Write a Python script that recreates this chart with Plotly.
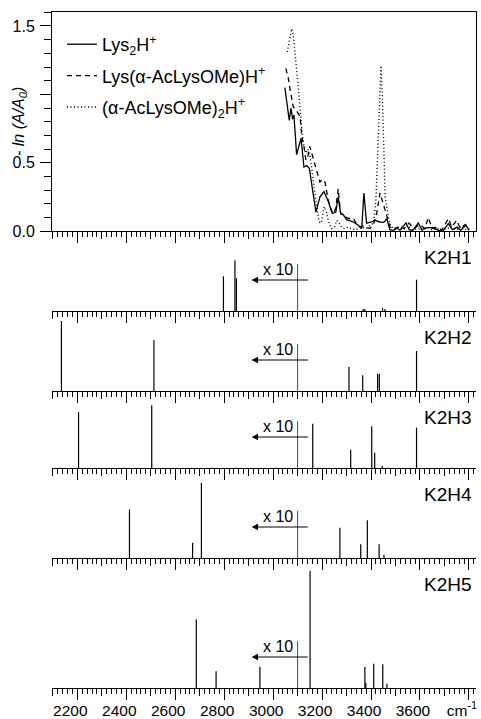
import plotly.graph_objects as go

# ---------------- data ----------------
# experimental IRMPD spectra (- ln(A/A0)) vs wavenumber (cm-1)
lys2_x = [3048, 3066, 3073, 3080, 3085, 3096, 3114, 3126, 3137, 3148, 3175, 3191, 3208, 3225,
          3242, 3256, 3266, 3276, 3287, 3300, 3328, 3348, 3362, 3371, 3382, 3402, 3416, 3437,
          3453, 3464, 3477, 3490, 3504, 3518, 3543, 3556, 3570, 3593, 3607, 3630, 3655, 3675,
          3695, 3716, 3733, 3752, 3766, 3788, 3801]
lys2_y = [1.05, 0.81, 0.90, 0.82, 0.85, 0.56, 0.68, 0.47, 0.48, 0.46, 0.14, 0.25, 0.29, 0.22,
          0.13, 0.14, 0.25, 0.13, 0.12, 0.085, 0.068, 0.044, 0.02, 0.28, 0.06, 0.068, 0.08, 0.068,
          0.065, 0.093, 0.012, 0.005, 0.027, 0.008, 0.061, 0.012, 0.005, 0.061, 0.012, 0.027, 0.027, 0.007,
          0.005, 0.056, 0.012, 0.031, 0.007, 0.044, 0.007]

lysac_x = [3052, 3062, 3068, 3082, 3096, 3103, 3110, 3117, 3126, 3134, 3142, 3150, 3160, 3171,
           3181, 3191, 3202, 3212, 3225, 3236, 3246, 3256, 3266, 3276, 3290, 3300, 3315, 3328,
           3342, 3355, 3368, 3380, 3395, 3410, 3423, 3437, 3450, 3464, 3478, 3495, 3515, 3535,
           3555, 3575, 3600, 3620, 3634, 3650, 3670, 3690, 3716, 3730, 3750, 3765, 3785, 3800]
lysac_y = [1.19, 1.12, 1.05, 0.91, 0.88, 0.86, 0.84, 0.70, 0.62, 0.52, 0.55, 0.62, 0.56, 0.49,
           0.42, 0.36, 0.38, 0.36, 0.23, 0.16, 0.13, 0.17, 0.31, 0.13, 0.12, 0.10, 0.09, 0.093,
           0.05, 0.032, 0.04, 0.032, 0.02, 0.05, 0.13, 0.28, 0.20, 0.13, 0.03, 0.01, 0.04, 0.02,
           0.06, 0.02, 0.05, 0.02, 0.10, 0.02, 0.03, 0.01, 0.093, 0.03, 0.08, 0.02, 0.05, 0.01]

ac2_x = [3058, 3068, 3076, 3082, 3089, 3096, 3103, 3110, 3117, 3126, 3134, 3142, 3150, 3157,
         3165, 3175, 3185, 3191, 3198, 3208, 3218, 3228, 3239, 3250, 3260, 3270, 3280, 3292,
         3305, 3320, 3335, 3350, 3365, 3380, 3395, 3410, 3420, 3430, 3437, 3441, 3446, 3452,
         3458, 3464, 3475, 3490, 3510, 3530, 3550, 3570, 3590, 3610, 3630, 3650, 3670, 3690,
         3710, 3730, 3750, 3770, 3790, 3805]
ac2_y = [1.31, 1.42, 1.48, 1.44, 1.32, 1.18, 1.05, 0.90, 0.74, 0.62, 0.57, 0.60, 0.56, 0.47,
         0.34, 0.22, 0.10, 0.06, 0.07, 0.18, 0.14, 0.06, 0.02, 0.03, 0.08, 0.06, 0.03, 0.02,
         0.03, 0.02, 0.01, 0.02, 0.03, 0.02, 0.04, 0.06, 0.23, 0.70, 1.05, 1.21, 1.00, 0.55,
         0.25, 0.18, 0.06, 0.02, 0.03, 0.01, 0.04, 0.01, 0.02, 0.01, 0.03, 0.01, 0.02, 0.01,
         0.02, 0.03, 0.01, 0.04, 0.01, 0.02]

series_names = ["Lys<sub>2</sub>H<sup>+</sup>",
                "Lys(\u03b1-AcLysOMe)H<sup>+</sup>",
                "(\u03b1-AcLysOMe)<sub>2</sub>H<sup>+</sup>"]

# computed stick spectra (displayed intensity, arb. units; below 3100 cm-1 shown x10)
conformer_names = ["K2H1", "K2H2", "K2H3", "K2H4", "K2H5"]
k2h1_pos = [2797, 2844, 2850, 3368, 3375, 3447, 3457, 3586]
k2h1_int = [34.7, 50.7, 33.0, 2.0, 2.0, 3.0, 2.0, 31.3]
k2h2_pos = [2135, 2513, 3310, 3366, 3427, 3434, 3586]
k2h2_int = [70.0, 50.7, 24.0, 15.7, 17.3, 17.3, 40.0]
k2h3_pos = [2205, 2504, 3162, 3317, 3403, 3415, 3446, 3586]
k2h3_int = [56.0, 62.7, 44.3, 18.3, 41.7, 15.3, 2.0, 40.3]
k2h4_pos = [2413, 2671, 2707, 3273, 3358, 3385, 3433, 3453]
k2h4_int = [48.4, 15.3, 75.0, 30.3, 13.7, 37.7, 13.7, 3.0]
k2h5_pos = [2686, 2767, 2946, 3151, 3375, 3379, 3411, 3448, 3465]
k2h5_int = [68.4, 16.7, 21.0, 117.0, 21.0, 5.0, 24.3, 23.7, 4.3]
stick_pos = [k2h1_pos, k2h2_pos, k2h3_pos, k2h4_pos, k2h5_pos]
stick_int = [k2h1_int, k2h2_int, k2h3_int, k2h4_int, k2h5_int]
scale_break = 3100   # x10 below this wavenumber

x_tick_vals = [2200, 2400, 2600, 2800, 3000, 3200, 3400, 3600, 3800]
x_tick_text = ["2200", "2400", "2600", "2800", "3000", "3200", "3400", "3600", "cm<sup>-1</sup>"]
y_tick_vals = [0.0, 0.5, 1.0, 1.5]
y_tick_text = ["0.0", "0.5", "", "1.5"]

# ---------------- layout geometry ----------------
W, H = 481, 719
ML, MR, MT, MB = 52, 5, 12, 31
PH = H - MT - MB
XR = [2096.5, 3829]
FONT = "Liberation Sans, Arial, Helvetica, sans-serif"

# panel heights in px (stick panels); stick y-units = px
stick_heights = [79.7, 80.0, 77.0, 90.0, 130.0]

fig = go.Figure()

# domains, from bottom up
bounds = []
y0 = 0.0
for h in reversed(stick_heights):
    bounds.append((y0, y0 + h / PH))
    y0 += h / PH
bounds = list(reversed(bounds))  # K2H1..K2H5
top_dom = (y0, 1.0)

# top panel traces
styles = [dict(color="black", width=1.3),
          dict(color="black", width=1.3, dash="5px,4px"),
          dict(color="black", width=1.4, dash="1px,2.5px")]
for i, (xs, ys) in enumerate([(lys2_x, lys2_y), (lysac_x, lysac_y), (ac2_x, ac2_y)]):
    fig.add_trace(go.Scatter(x=xs, y=ys, mode="lines", line=styles[i], name=series_names[i],
                             legendgroup=f"g{i}", xaxis="x", yaxis="y", showlegend=True))

# stick panels
for k in range(5):
    xs, ys = [], []
    for p, v in zip(stick_pos[k], stick_int[k]):
        xs += [p, p, None]
        ys += [0, v, None]
    n = k + 2
    fig.add_trace(go.Scatter(x=xs, y=ys, mode="lines", line=dict(color="black", width=1.2),
                             xaxis=f"x{n}", yaxis=f"y{n}", showlegend=False, hoverinfo="skip"))

# invisible helper traces so that the overlay (long-tick) axes get drawn
for k in range(6):
    n = k + 1
    fig.add_trace(go.Scatter(x=[XR[0]], y=[0], mode="markers", marker=dict(opacity=0, size=1),
                             xaxis=f"x{n + 6}", yaxis=("y" if n == 1 else f"y{n}"),
                             showlegend=False, hoverinfo="skip"))

tickfont = dict(family=FONT, size=16, color="black")
lay = dict(
    width=W, height=H, margin=dict(l=ML, r=MR, t=MT, b=MB, autoexpand=False),
    paper_bgcolor="white", plot_bgcolor="white",
    font=dict(family=FONT, color="black"),
    showlegend=True,
    legend=dict(x=(62 - ML) / (W - ML - MR), y=(H - MB - 26) / PH, xanchor="left", yanchor="top",
                font=dict(family=FONT, size=18, color="black"), bgcolor="rgba(0,0,0,0)",
                tracegroupgap=5, borderwidth=0),
)

def xaxis_common(dom_anchor):
    return dict(range=XR, anchor=dom_anchor, showgrid=False, zeroline=False, automargin=False,
                showline=True, linecolor="black", linewidth=1,
                ticks="outside", ticklen=7, tickwidth=1, tickcolor="black",
                tick0=2000, dtick=100, showticklabels=False,
                minor=dict(ticks="outside", ticklen=5, tickwidth=1, tickcolor="black",
                           tick0=2000, dtick=20, showgrid=False))

def overlay_axis(base, anchor, labels):
    return dict(range=XR, overlaying=base, anchor=anchor, side="bottom", showgrid=False,
                zeroline=False, showline=False, ticks="outside", ticklen=11, tickwidth=1,
                tickcolor="black", tickmode="array", tickvals=x_tick_vals, ticktext=x_tick_text,
                showticklabels=labels, tickfont=dict(family=FONT, size=15.5, color="black"),
                ticklabelshift=-7, ticklabelstandoff=-3, automargin=False)

# top panel axes
ax = xaxis_common("y")
ax.update(mirror=True)
lay["xaxis"] = ax
lay["yaxis"] = dict(domain=list(top_dom), range=[0, (231 - 11.7) / 136.9], anchor="x",
                    showgrid=False, zeroline=False, showline=True, mirror=True, automargin=False,
                    linecolor="black", linewidth=1, ticks="outside", ticklen=11, tickwidth=1,
                    tickcolor="black", tickvals=y_tick_vals, ticktext=y_tick_text,
                    tickfont=tickfont, ticklabelstandoff=2,
                    minor=dict(ticks="outside", ticklen=7, tickwidth=1, tickcolor="black",
                               tick0=0, dtick=0.1, showgrid=False))
lay["xaxis7"] = overlay_axis("x", "y", False)

annotations = []
shapes = []
for k in range(5):
    n = k + 2
    lay[f"xaxis{n}"] = xaxis_common(f"y{n}")
    lay[f"yaxis{n}"] = dict(domain=list(bounds[k]), range=[0, stick_heights[k]], anchor=f"x{n}",
                            showgrid=False, zeroline=False, showline=False, ticks="",
                            showticklabels=False, automargin=False)
    lay[f"xaxis{n + 6}"] = overlay_axis(f"x{n}", f"y{n}", k == 4)
    # conformer label
    annotations.append(dict(text=conformer_names[k], xref="paper", x=1, xanchor="right", xshift=-2,
                            yref=f"y{n} domain", y=1, yanchor="middle", yshift=-26,
                            showarrow=False, font=dict(family=FONT, size=19, color="black")))
    # x10 marker
    shapes.append(dict(type="line", xref=f"x{n}", yref=f"y{n}", x0=scale_break, x1=scale_break,
                       y0=0, y1=47, line=dict(color="#222", width=0.8)))
    annotations.append(dict(text="", xref=f"x{n}", yref=f"y{n}", x=2912, y=31,
                            axref=f"x{n}", ayref=f"y{n}", ax=3148, ay=31, showarrow=True,
                            arrowhead=2, arrowsize=1.3, arrowwidth=1, arrowcolor="black", standoff=0))
    annotations.append(dict(text="x 10", xref=f"x{n}", yref=f"y{n}", x=3021, y=42,
                            showarrow=False, font=dict(family=FONT, size=16, color="black")))

# y-axis title
annotations.append(dict(text="<i>- ln (A/A<sub>0</sub>)</i>", xref="paper", yref="paper",
                        x=(19 - ML) / (W - ML - MR), y=(H - MB - 122) / PH, xanchor="center",
                        yanchor="middle", textangle=-90, showarrow=False,
                        font=dict(family=FONT, size=16, color="black")))

lay["annotations"] = annotations
lay["shapes"] = shapes
fig.update_layout(**lay)
fig.write_html("out.html")
